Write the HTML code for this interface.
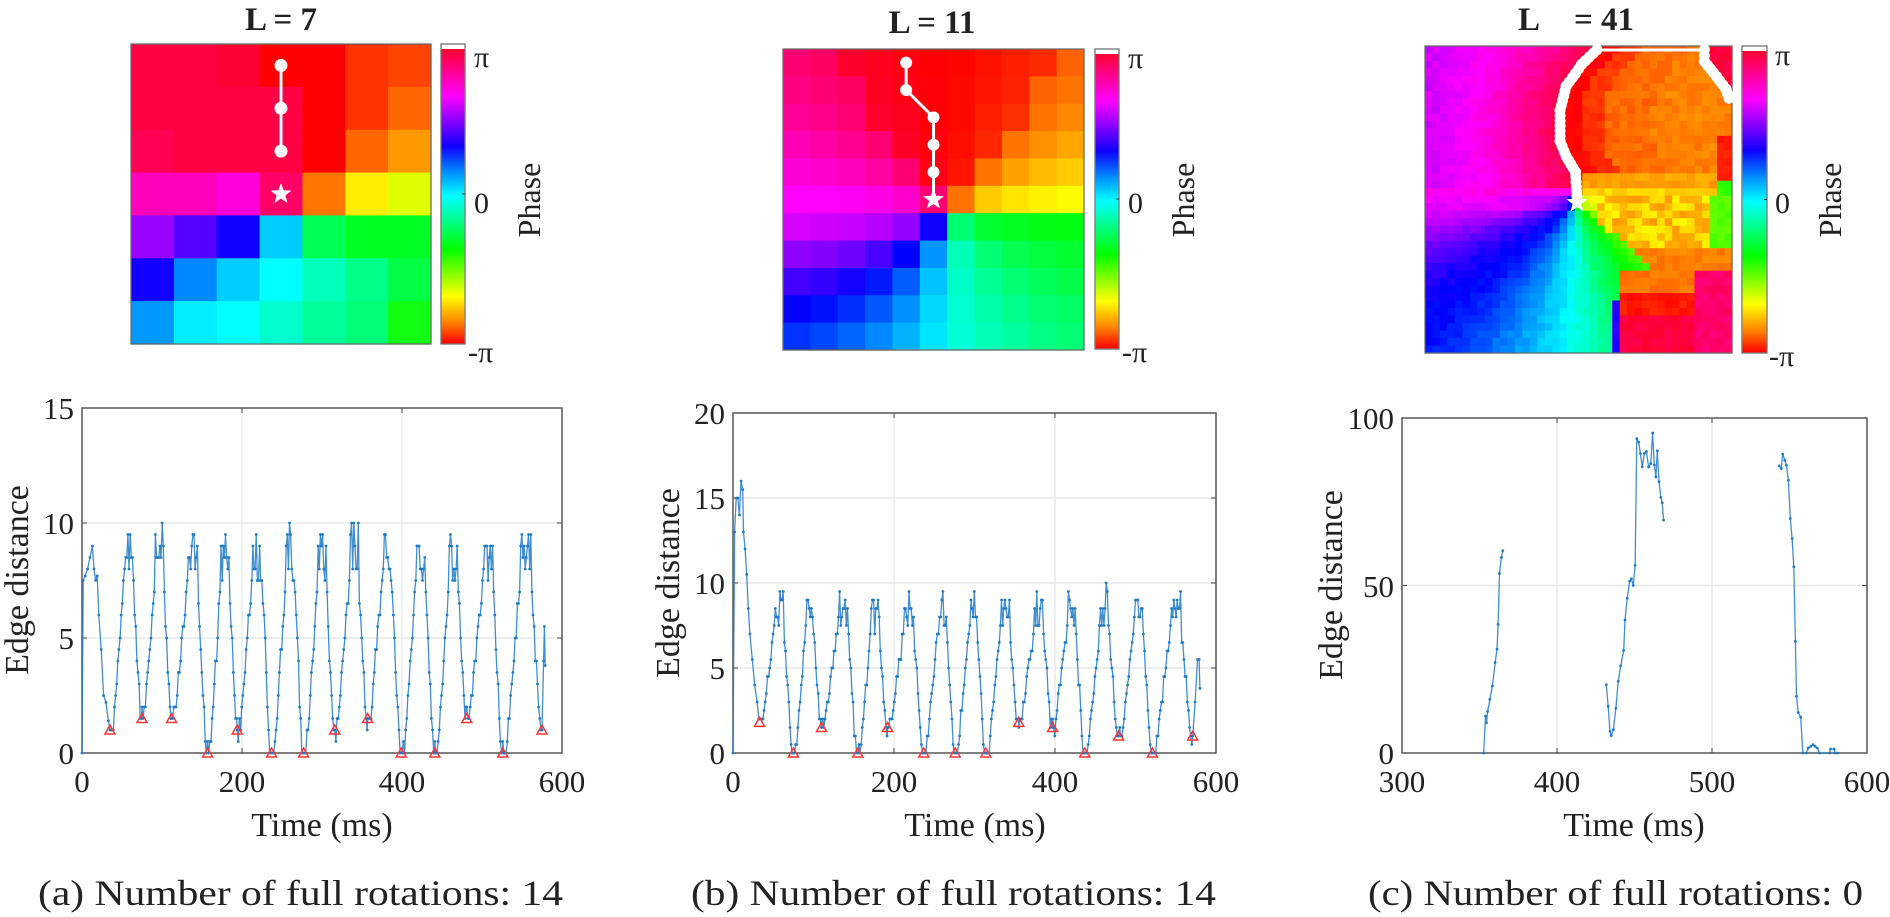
<!DOCTYPE html>
<html><head><meta charset="utf-8"><style>
html,body{margin:0;padding:0;background:#fff;}
svg{display:block;}
text{font-family:"Liberation Serif","Times New Roman",serif;fill:#222;}
</style></head><body>
<svg id="s" width="1890" height="917" viewBox="0 0 1890 917" xmlns="http://www.w3.org/2000/svg">
<defs>
<linearGradient id="cb" x1="0" y1="0" x2="0" y2="1">
<stop offset="0" stop-color="#ff0030"/><stop offset="0.16" stop-color="#ff00ff"/><stop offset="0.33" stop-color="#1000ff"/><stop offset="0.42" stop-color="#0090ff"/><stop offset="0.5" stop-color="#00ffff"/><stop offset="0.68" stop-color="#00ff00"/><stop offset="0.84" stop-color="#ffff00"/><stop offset="0.93" stop-color="#ff8000"/><stop offset="1" stop-color="#ff0000"/>
</linearGradient>
</defs>
<g id="g"></g>
<text x="281" y="30" font-size="33" font-weight="bold" text-anchor="middle">L = 7</text>
<text x="932" y="33" font-size="33" font-weight="bold" text-anchor="middle">L = 11</text>
<text x="1529" y="30" font-size="33" font-weight="bold" text-anchor="middle">L</text>
<text x="1604" y="30" font-size="33" font-weight="bold" text-anchor="middle">= 41</text>
<text x="474" y="67" font-size="30">π</text><text x="474" y="213" font-size="30">0</text><text x="468" y="362" font-size="30">-π</text>
<text x="1128" y="68" font-size="30">π</text><text x="1128" y="213" font-size="30">0</text><text x="1122" y="362" font-size="30">-π</text>
<text x="1775" y="65" font-size="30">π</text><text x="1775" y="213" font-size="30">0</text><text x="1769" y="366" font-size="30">-π</text>
<text transform="translate(540,200) rotate(-90)" font-size="32" text-anchor="middle">Phase</text>
<text transform="translate(1194,200) rotate(-90)" font-size="32" text-anchor="middle">Phase</text>
<text transform="translate(1841,200) rotate(-90)" font-size="32" text-anchor="middle">Phase</text>
<text transform="translate(28,580) rotate(-90)" font-size="34" text-anchor="middle">Edge distance</text>
<text transform="translate(679,583) rotate(-90)" font-size="34" text-anchor="middle">Edge distance</text>
<text transform="translate(1342,585) rotate(-90)" font-size="34" text-anchor="middle">Edge distance</text>
<text x="322" y="836" font-size="34" text-anchor="middle">Time (ms)</text>
<text x="975" y="836" font-size="34" text-anchor="middle">Time (ms)</text>
<text x="1634" y="836" font-size="34" text-anchor="middle">Time (ms)</text>
<text x="74" y="764" font-size="31" text-anchor="end">0</text><text x="74" y="649" font-size="31" text-anchor="end">5</text><text x="74" y="534" font-size="31" text-anchor="end">10</text><text x="74" y="419" font-size="31" text-anchor="end">15</text>
<text x="725" y="764" font-size="31" text-anchor="end">0</text><text x="725" y="679" font-size="31" text-anchor="end">5</text><text x="725" y="594" font-size="31" text-anchor="end">10</text><text x="725" y="509" font-size="31" text-anchor="end">15</text><text x="725" y="424" font-size="31" text-anchor="end">20</text>
<text x="1394" y="764" font-size="31" text-anchor="end">0</text><text x="1394" y="597" font-size="31" text-anchor="end">50</text><text x="1394" y="429" font-size="31" text-anchor="end">100</text>
<text x="82" y="792" font-size="31" text-anchor="middle">0</text><text x="242" y="792" font-size="31" text-anchor="middle">200</text><text x="402" y="792" font-size="31" text-anchor="middle">400</text><text x="562" y="792" font-size="31" text-anchor="middle">600</text>
<text x="733" y="792" font-size="31" text-anchor="middle">0</text><text x="894" y="792" font-size="31" text-anchor="middle">200</text><text x="1055" y="792" font-size="31" text-anchor="middle">400</text><text x="1216" y="792" font-size="31" text-anchor="middle">600</text>
<text x="1402" y="792" font-size="31" text-anchor="middle">300</text><text x="1557" y="792" font-size="31" text-anchor="middle">400</text><text x="1712" y="792" font-size="31" text-anchor="middle">500</text><text x="1867" y="792" font-size="31" text-anchor="middle">600</text>
<text x="38" y="905" font-size="36" textLength="525" lengthAdjust="spacingAndGlyphs">(a) Number of full rotations: 14</text>
<text x="691" y="905" font-size="36" textLength="525" lengthAdjust="spacingAndGlyphs">(b) Number of full rotations: 14</text>
<text x="1368" y="905" font-size="36" textLength="495" lengthAdjust="spacingAndGlyphs">(c) Number of full rotations: 0</text>
</svg>
<script>
(function(){
var NS="http://www.w3.org/2000/svg",G=document.getElementById("g");
function el(n,a){var e=document.createElementNS(NS,n);for(var k in a)e.setAttribute(k,a[k]);G.appendChild(e);return e;}
function hsl(h){h=((h%360)+360)%360;return "hsl("+h.toFixed(0)+",100%,50%)";}
var seed=7;function rnd(){seed=(seed*16807)%2147483647;return seed/2147483647;}
function star(cx,cy,R){var p=[];for(var i=0;i<10;i++){var r=i%2?R*0.42:R,a=-Math.PI/2+i*Math.PI/5;p.push((cx+r*Math.cos(a)).toFixed(1)+","+(cy+r*Math.sin(a)).toFixed(1));}el("polygon",{points:p.join(" "),fill:"#fff"});}
function cbar(x,y,w,h){el("rect",{x:x,y:y,width:w,height:h,fill:"#fff",stroke:"#666","stroke-width":1.2});el("rect",{x:x+0.6,y:y+5,width:w-1.2,height:h-5.6,fill:"url(#cb)"});el("line",{x1:x+w-3,x2:x+w,y1:y+h/2,y2:y+h/2,stroke:"#333"});}
var A=[["#f04","#f04","#f03","#f00","#f00","#f30","#f40"],["#f04","#f04","#f04","#f04","#f00","#f30","#f60"],["#f05","#f04","#f04","#f04","#f00","#f60","#f90"],["#f0b","#f0b","#f0d","#f06","#f70","#fe0","#df0"],["#90f","#50f","#10f","#0cf","#0f5","#0f2","#0f2"],["#10f","#08f","#0cf","#0ff","#0fb","#0f8","#0f4"],["#09f","#0ef","#0ff","#0fc","#0f9","#0f7","#1f1"]];
var ax=131,ay=44,aw=300,cs=aw/7;
for(var r=0;r<7;r++)for(var c=0;c<7;c++)el("rect",{x:ax+c*cs,y:ay+r*cs,width:cs+0.6,height:cs+0.6,fill:A[r][c]});
el("rect",{x:ax,y:ay,width:aw,height:aw,fill:"none",stroke:"#666","stroke-width":1.2});
var px=ax+3.5*cs;el("line",{x1:px,x2:px,y1:ay+0.5*cs,y2:ay+2.5*cs,stroke:"#fff","stroke-width":3});
for(r=0;r<3;r++)el("circle",{cx:px,cy:ay+(r+0.5)*cs,r:6.5,fill:"#fff"});
star(px,ay+3.5*cs,11);
cbar(441,44,24,300);
// heatmap b
var bx=783,by=49,bw=301,n=11,bs=bw/n;
for(r=0;r<n;r++)for(c=0;c<n;c++){var dx=c+0.5-6,dy=r+0.5-6;var a=Math.atan2(dx,-dy)*180/Math.PI;if(a<0)a+=360;var h;
 if(dy<0){h=a-25*Math.sin(a*Math.PI/180);var rr=Math.sqrt(dx*dx+dy*dy);if(Math.abs(dx)<rr*0.6)h=h*0.5+(h>180?180:0);}
 else if(a<180){h=120+(a-90)*0.6;}
 else{var k=1-0.09*Math.max(0,dy-1);h=180+((a-25*Math.sin(a*Math.PI/180))-180)*k;}
 el("rect",{x:bx+c*bs,y:by+r*bs,width:bs+0.6,height:bs+0.6,fill:hsl(h)});}
el("rect",{x:bx,y:by,width:bw,height:bw,fill:"none",stroke:"#666","stroke-width":1.2});
var bp=[[4,0],[4,1],[5,2],[5,3],[5,4]];var pts=bp.map(function(p){return (bx+(p[0]+0.5)*bs)+","+(by+(p[1]+0.5)*bs)}).concat([(bx+5.5*bs)+","+(by+5.5*bs)]);
el("polyline",{points:pts.join(" "),fill:"none",stroke:"#fff","stroke-width":3});
bp.forEach(function(p){el("circle",{cx:bx+(p[0]+0.5)*bs,cy:by+(p[1]+0.5)*bs,r:6,fill:"#fff"});});
star(bx+5.5*bs,by+5.5*bs,11);
cbar(1095,49,24,300);
// heatmap c
var cx0=1425,cy0=46,cw=307,ch=307,N=41;
function pl(t,P){if(t<=P[0][0])return P[0][1];for(var i=1;i<P.length;i++)if(t<=P[i][0]){var u=(t-P[i-1][0])/(P[i][0]-P[i-1][0]);return P[i-1][1]+u*(P[i][1]-P[i-1][1]);}return P[P.length-1][1];}
var LL=[[0,0.57],[0.06,0.51],[0.09,0.49],[0.13,0.46],[0.21,0.44],[0.31,0.44],[0.36,0.46],[0.41,0.49],[0.51,0.49]];
var LR=[[0,0.91],[0.05,0.91],[0.10,0.95],[0.14,0.98],[0.17,1.0]];
var AT=[[0,55],[30,80],[50,120],[75,150],[90,175],[105,195],[120,215],[135,235],[150,245],[165,268],[180,300]];
for(r=0;r<N;r++)for(c=0;c<N;c++){var fx=(c+0.5)/N,fy=(r+0.5)/N,h;
 if(fy<0.5){var L=pl(fy,LL),R=fy<0.17?pl(fy,LR):1.01;
  if(fx<L){h=290+55*Math.pow(fx/L,1.5);if(fy>0.46)h=305;}
  else if(fx>R)h=345;
  else{var d=fx-L;h=d<0.07?0:(d<0.14?12:(d<0.3?25:30));if(fy>0.42&&fx>0.52)h=fy>0.46?50:38;if(fx>0.95&&fy>0.3)h=fy>0.45?110:5;}
 }else{
  if((fx>0.63&&fy>0.74)||(fx>0.62&&fy>0.82)){h=fy<0.8?28:(fy<0.87?5:345);if(fx>0.88)h=335;}
  else{var dx2=fx-0.49,dy2=fy-0.51;var an=Math.abs(Math.atan2(dy2,dx2)*180/Math.PI);h=pl(an,AT);
   if(fx>0.55&&fy<0.74&&an<40){h=fx>0.93?100:(rnd()<0.5?55:40);if(fy>0.66&&fx>0.66)h=30;}}
  if(fy>0.83&&fx>0.6&&fx<0.64)h=250;
 }
 h+=(rnd()-0.5)*8;
 el("rect",{x:cx0+c*cw/N,y:cy0+r*ch/N,width:cw/N+0.6,height:ch/N+0.6,fill:hsl(h)});}
el("rect",{x:cx0,y:cy0,width:cw,height:ch,fill:"none",stroke:"#666","stroke-width":1.2});
function chain(P){for(var i=1;i<P.length;i++){var x1=P[i-1][0],y1=P[i-1][1],x2=P[i][0],y2=P[i][1];var len=Math.hypot((x2-x1)*cw,(y2-y1)*ch),k=Math.max(1,Math.round(len/5));for(var j=0;j<=k;j++){var u=j/k;el("circle",{cx:cx0+(x1+u*(x2-x1))*cw,cy:cy0+(y1+u*(y2-y1))*ch,r:5.5,fill:"#fff"});}}}
chain([[0.56,0.012],[0.51,0.06],[0.49,0.09],[0.46,0.13],[0.44,0.21],[0.44,0.31],[0.46,0.36],[0.49,0.41],[0.495,0.49]]);
chain([[0.91,0.012],[0.91,0.05],[0.95,0.10],[0.98,0.14],[0.99,0.17]]);
el("line",{x1:cx0+0.56*cw,x2:cx0+0.91*cw,y1:cy0+4,y2:cy0+4,stroke:"#fff","stroke-width":3});
star(cx0+0.495*cw,cy0+0.51*ch,11);
cbar(1742,46,25,307);
function axes(x0,x1,y0,y1,xt,yt){xt.forEach(function(v){el("line",{x1:v,x2:v,y1:y0,y2:y1,stroke:"#e4e4e4","stroke-width":1.2});el("line",{x1:v,x2:v,y1:y1,y2:y1+5,stroke:"#444"});el("line",{x1:v,x2:v,y1:y0,y2:y0-5,stroke:"#444"});});
 yt.forEach(function(v){el("line",{x1:x0,x2:x1,y1:v,y2:v,stroke:"#e4e4e4","stroke-width":1.2});el("line",{x1:x0,x2:x0+5,y1:v,y2:v,stroke:"#444"});el("line",{x1:x1,x2:x1-5,y1:v,y2:v,stroke:"#444"});});
 el("rect",{x:x0,y:y1,width:x1-x0,height:y0-y1,fill:"none",stroke:"#555","stroke-width":1.5});}
axes(82,562,753,408,[242,402],[638,523]);
axes(733,1216,753,413,[894,1055],[668,583,498]);
axes(1402,1867,753,418,[1557,1712],[585.5]);
var BL="#1f7ac4";
function series(segs,X,Y){segs.forEach(function(s){el("polyline",{points:s.map(function(p){return X(p[0]).toFixed(1)+","+Y(p[1]).toFixed(1)}).join(" "),fill:"none",stroke:BL,"stroke-width":1.3,"stroke-opacity":0.85});s.forEach(function(p){el("circle",{cx:X(p[0]),cy:Y(p[1]),r:1.4,fill:BL});});});}
function tri(x,y){el("polygon",{points:(x-5)+","+(y+4)+" "+(x+5)+","+(y+4)+" "+x+","+(y-5),fill:"none",stroke:"#f33","stroke-width":1.5});}
function cyc(mins,start,startPts,peak){var pts=startPts.slice();for(var i=0;i<mins.length-1;i++){var t0=mins[i][0],t1=mins[i+1][0],v0=mins[i][1],v1=mins[i+1][1];for(var t=t0;t<t1;t+=1.4){var u=(t-t0)/(t1-t0),v;
 if(u<0.08)v=v0;else if(u<0.45)v=v0+(peak-1-v0)*(u-0.08)/0.37;else if(u<0.72)v=peak-1+rnd()*2.2;else if(u<0.95)v=v1+(peak-1-v1)*(0.95-u)/0.23;else v=v1;
 v=Math.max(0,Math.round((v+(rnd()-0.5)*0.8)*2)/2);pts.push([t,v]);}}
 pts.push(mins[mins.length-1]);return pts;}
var mA=[[35,1],[75,1.5],[112,1.5],[157,0],[194,1],[237,0],[277,0],[316,1],[357,1.5],[399,0],[441,0],[481,1.5],[526,0],[575,1]];
var sA=[[0,0],[1.5,7.5],[4,7.7],[7,8],[10,8.5],[13,9],[15,8],[17,7.5],[19,7.7],[21,6],[24,4.5],[27,2.5],[30,2.2],[33,1.4]];
var dA=cyc(mA,0,sA,8.6);dA.push([577,4],[578,5.5],[579,3.8]);
var XA=function(t){return 82+t*0.8},YA=function(v){return 753-v*23};
series([dA],XA,YA);mA.forEach(function(m){tri(XA(m[0]),YA(m[1]));});
var mB=[[33,1.8],[75,0],[110,1.5],[155,0],[192,1.5],[237,0],[276,0],[314,0],[355,1.8],[397,1.5],[437,0],[479,1],[521,0],[571,1]];
var sB=[[0,0],[2,13],[4,15],[6,15],[8,14],[10,16],[12,15.5],[13,13],[15,12],[17,10.5],[19,8.5],[21,7],[24,5.5],[27,4],[30,3],[32,2]];
var dB=cyc(mB,0,sB,8.3);dB.push([574,3],[577,5.5],[579,5.5],[580,3.8]);
var XB=function(t){return 733+t*483/600},YB=function(v){return 753-v*17};
series([dB],XB,YB);mB.forEach(function(m){tri(XB(m[0]),YB(m[1]));});
var XC=function(t){return 1402+(t-300)*465/300},YC=function(v){return 753-v*3.35};
series([
[[352.7,0],[353.9,11],[354.5,9],[355.2,12.4],[356.7,16],[358.3,20],[360.1,27],[361.3,31],[362,38.4],[362.9,53.6],[364.1,58.4],[365,60.4]],
[[431.8,20.4],[433,13.9],[434.2,6.5],[435,5.2],[436.4,7],[438,13.4],[439.5,21.4],[441.1,26],[443,30.6],[443.9,39.7],[445.3,46.2],[446.9,51.3],[448,52],[449.2,50],[450.4,56],[451.5,93.8],[452.7,92.8],[453.8,89.4],[455,85.4],[456.4,89.4],[457.7,90],[459.1,85.4],[460.5,86.4],[461.7,95.5],[462.8,86],[463.8,82.4],[464.7,90.2],[465.8,81],[467,76.3],[467.9,74.7],[468.8,69.5]],
[[543.3,85.7],[544.7,84.9],[545.6,89.2],[547,87.4],[548,85.9],[549.3,81.4],[550.5,70],[551.7,64],[552.8,55.6],[553.8,33.3],[554.5,16.9],[555.6,12.1],[557.2,10.7],[558.6,0],[560.9,0],[562.1,1.5],[563.7,2],[565.3,2.5],[566.5,2],[567.9,1.5],[569.5,0],[575.8,0],[576.5,1.2],[578.8,1.2],[579.4,0],[581,0]]
],XC,YC);
})();
</script>
</body></html>
